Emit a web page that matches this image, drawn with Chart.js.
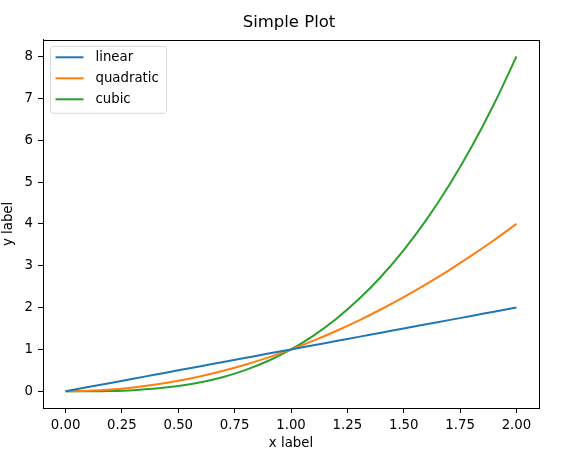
<!DOCTYPE html>
<html>
<head>
<meta charset="utf-8">
<script src="https://cdn.jsdelivr.net/npm/chart.js@4/dist/chart.umd.min.js"></script>
<style>
  html, body { margin: 0; padding: 0; background: #fff; }
</style>
</head>
<body>
<canvas id="plot" width="578" height="455"></canvas>
<script>
const xs = [0, 0.1, 0.2, 0.3, 0.4, 0.5, 0.6, 0.7, 0.8, 0.9, 1.0,
            1.1, 1.2, 1.3, 1.4, 1.5, 1.6, 1.7, 1.8, 1.9, 2.0];
const linear = [0, 0.1, 0.2, 0.3, 0.4, 0.5, 0.6, 0.7, 0.8, 0.9, 1.0,
                1.1, 1.2, 1.3, 1.4, 1.5, 1.6, 1.7, 1.8, 1.9, 2.0];
const quadratic = [0, 0.01, 0.04, 0.09, 0.16, 0.25, 0.36, 0.49, 0.64, 0.81, 1.0,
                   1.21, 1.44, 1.69, 1.96, 2.25, 2.56, 2.89, 3.24, 3.61, 4.0];
const cubic = [0, 0.001, 0.008, 0.027, 0.064, 0.125, 0.216, 0.343, 0.512, 0.729, 1.0,
               1.331, 1.728, 2.197, 2.744, 3.375, 4.096, 4.913, 5.832, 6.859, 8.0];
const seriesNames = ['linear', 'quadratic', 'cubic'];
const xTicks = [0, 0.25, 0.5, 0.75, 1.0, 1.25, 1.5, 1.75, 2.0];
const yTicks = [0, 1, 2, 3, 4, 5, 6, 7, 8];

const FONT = 'DejaVu Sans';
const colors = ['#1f77b4', '#ff7f0e', '#2ca02c'];

function pts(ys) {
    return xs.map((x, i) => ({ x: x, y: ys[i] }));
}

// black box round the axes, like matplotlib spines
const frame = {
    id: 'frame',
    afterDatasetsDraw(chart) {
        const a = chart.chartArea;
        const ctx = chart.ctx;
        ctx.save();
        ctx.strokeStyle = '#000';
        ctx.lineWidth = 1;
        ctx.strokeRect(Math.round(a.left) + 0.5, Math.round(a.top) + 0.5,
                       Math.round(a.right - a.left), Math.round(a.bottom - a.top));
        ctx.restore();
    }
};

// legend box in the upper left corner of the axes
const innerLegend = {
    id: 'innerLegend',
    afterDraw(chart) {
        const a = chart.chartArea;
        const ctx = chart.ctx;
        const x0 = a.left + 7.5, y0 = a.top + 6.5;
        const w = 116, h = 67, r = 3;
        ctx.save();
        ctx.beginPath();
        ctx.roundRect(x0, y0, w, h, r);
        ctx.fillStyle = 'rgba(255,255,255,0.8)';
        ctx.fill();
        ctx.strokeStyle = '#d6d6d6';
        ctx.lineWidth = 1;
        ctx.stroke();
        ctx.font = '13.3px "' + FONT + '"';
        ctx.textBaseline = 'middle';
        ctx.fillStyle = '#000';
        chart.data.datasets.forEach((ds, i) => {
            const cy = y0 + 11 + i * 21;
            ctx.beginPath();
            ctx.moveTo(x0 + 5, cy);
            ctx.lineTo(x0 + 33, cy);
            ctx.strokeStyle = ds.borderColor;
            ctx.lineWidth = 2;
            ctx.stroke();
            ctx.fillText(ds.label, x0 + 45, cy);
        });
        ctx.restore();
    }
};

new Chart(document.getElementById('plot').getContext('2d'), {
    type: 'line',
    data: {
        datasets: [
            { label: seriesNames[0], data: pts(linear), borderColor: colors[0] },
            { label: seriesNames[1], data: pts(quadratic), borderColor: colors[1] },
            { label: seriesNames[2], data: pts(cubic), borderColor: colors[2] }
        ]
    },
    options: {
        responsive: false,
        animation: false,
        devicePixelRatio: 1,
        layout: { padding: 0 },
        elements: {
            line: { borderWidth: 2, cubicInterpolationMode: 'monotone', fill: false },
            point: { radius: 0 }
        },
        plugins: {
            legend: { display: false },
            tooltip: { enabled: false },
            title: {
                display: true,
                text: 'Simple Plot',
                color: '#000',
                font: { family: FONT, size: 16.5, weight: 'normal' },
                padding: { top: 13, bottom: 7 }
            }
        },
        scales: {
            x: {
                type: 'linear',
                min: -0.1,
                max: 2.1,
                afterBuildTicks(scale) { scale.ticks = xTicks.map(v => ({ value: v })); },
                afterFit(scale) { scale.height = 47; },
                grid: { drawOnChartArea: false, tickLength: 5, color: '#000' },
                border: { color: '#000' },
                ticks: {
                    color: '#000',
                    padding: 5,
                    maxRotation: 0,
                    font: { family: FONT, size: 13.3 },
                    callback: v => v.toFixed(2)
                },
                title: {
                    display: true,
                    text: 'x label',
                    color: '#000',
                    font: { family: FONT, size: 13.3 },
                    padding: { top: 0, bottom: 3 }
                }
            },
            y: {
                type: 'linear',
                min: -0.4,
                max: 8.4,
                afterBuildTicks(scale) { scale.ticks = yTicks.map(v => ({ value: v })); },
                afterFit(scale) { scale.width = 43; },
                grid: { drawOnChartArea: false, tickLength: 5, color: '#000' },
                border: { color: '#000' },
                ticks: {
                    color: '#000',
                    padding: 5,
                    font: { family: FONT, size: 13.3 },
                    callback: v => String(v)
                },
                title: {
                    display: true,
                    text: 'y label',
                    color: '#000',
                    font: { family: FONT, size: 13.3 },
                    padding: { top: 1, bottom: 0 }
                }
            },
            // empty right margin so the title centres over the whole figure
            yRight: {
                type: 'linear',
                position: 'right',
                min: -0.4,
                max: 8.4,
                afterFit(scale) { scale.width = 39; },
                grid: { display: false },
                border: { display: false },
                ticks: { display: false }
            }
        }
    },
    plugins: [frame, innerLegend]
});
</script>
</body>
</html>
